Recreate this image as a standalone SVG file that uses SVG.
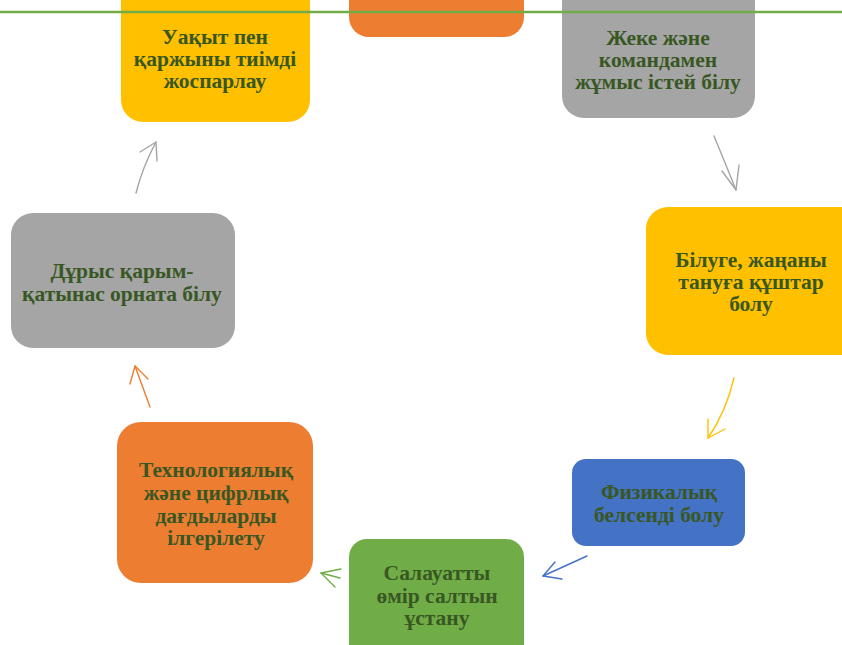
<svg xmlns="http://www.w3.org/2000/svg" width="842" height="645" viewBox="0 0 842 645">
<style>
.t{font-family:"Liberation Serif","Times New Roman",serif;font-weight:bold;font-size:21.5px;fill:#385723;text-anchor:middle}
.a{fill:none;stroke-width:1.4;stroke-linecap:round;stroke-linejoin:round}
</style>
<rect width="842" height="645" fill="#ffffff"/>
<g id="n1"><rect x="121" y="-30" width="189" height="152" rx="22" fill="#ffc000"/>
<text class="t"><tspan x="215" y="44">Уақыт пен</tspan><tspan x="215" y="66">қаржыны тиімді</tspan><tspan x="215" y="88">жоспарлау</tspan></text></g>
<g id="n2"><rect x="349" y="-30" width="175" height="67" rx="20" fill="#ed7d31"/></g>
<g id="n3"><rect x="562" y="-30" width="193" height="148" rx="22" fill="#a5a5a5"/>
<text class="t"><tspan x="658" y="45">Жеке және</tspan><tspan x="658" y="67">командамен</tspan><tspan x="658" y="89">жұмыс істей білу</tspan></text></g>
<g id="n4"><rect x="646" y="207" width="220" height="148" rx="22" fill="#ffc000"/>
<text class="t"><tspan x="751" y="267">Білуге, жаңаны</tspan><tspan x="751" y="289">тануға құштар</tspan><tspan x="751" y="311">болу</tspan></text></g>
<g id="n5"><rect x="572" y="459" width="173" height="87" rx="14" fill="#4472c4"/>
<text class="t"><tspan x="659" y="499">Физикалық</tspan><tspan x="659" y="522">белсенді болу</tspan></text></g>
<g id="n6"><rect x="349" y="539" width="175" height="130" rx="18" fill="#70ad47"/>
<text class="t"><tspan x="437" y="580">Салауатты</tspan><tspan x="437" y="603">өмір салтын</tspan><tspan x="437" y="625">ұстану</tspan></text></g>
<g id="n7"><rect x="117" y="422" width="196" height="161" rx="24" fill="#ed7d31"/>
<text class="t"><tspan x="216" y="477">Технологиялық</tspan><tspan x="216" y="500">және цифрлық</tspan><tspan x="216" y="523">дағдыларды</tspan><tspan x="216" y="545">ілгерілету</tspan></text></g>
<g id="n8"><rect x="11" y="213" width="224" height="135" rx="22" fill="#a5a5a5"/>
<text class="t"><tspan x="122" y="278">Дұрыс қарым-</tspan><tspan x="122" y="301">қатынас орната білу</tspan></text></g>
<g id="connectors">
<g stroke="#a5a5a5" class="a"><path class="a" d="M714 136 Q724 160 736 190"/><path class="a" d="M722 171 L736 190 L739 165"/></g>
<g stroke="#ffc000" class="a"><path class="a" d="M734 378 Q726 412 708 438"/><path class="a" d="M708 419 L708 438 L725 429"/></g>
<g stroke="#4472c4" class="a"><path class="a" d="M587 556 L543 576"/><path class="a" d="M555 562 L543 576 L562 579"/></g>
<g stroke="#70ad47" class="a"><path class="a" d="M341 569 L321 573 L335 587"/><path class="a" d="M340 578 L321 573"/></g>
<g stroke="#ed7d31" class="a"><path class="a" d="M150 407 Q143 388 135 366"/><path class="a" d="M130 384 L135 366 L148 379"/></g>
<g stroke="#a5a5a5" class="a"><path class="a" d="M136 193 Q143 166 156 142"/><path class="a" d="M140 152 L156 142 L157 161"/></g>
</g>
<line x1="0" y1="12" x2="842" y2="12" stroke="#70ad47" stroke-width="2.5"/>
</svg>
